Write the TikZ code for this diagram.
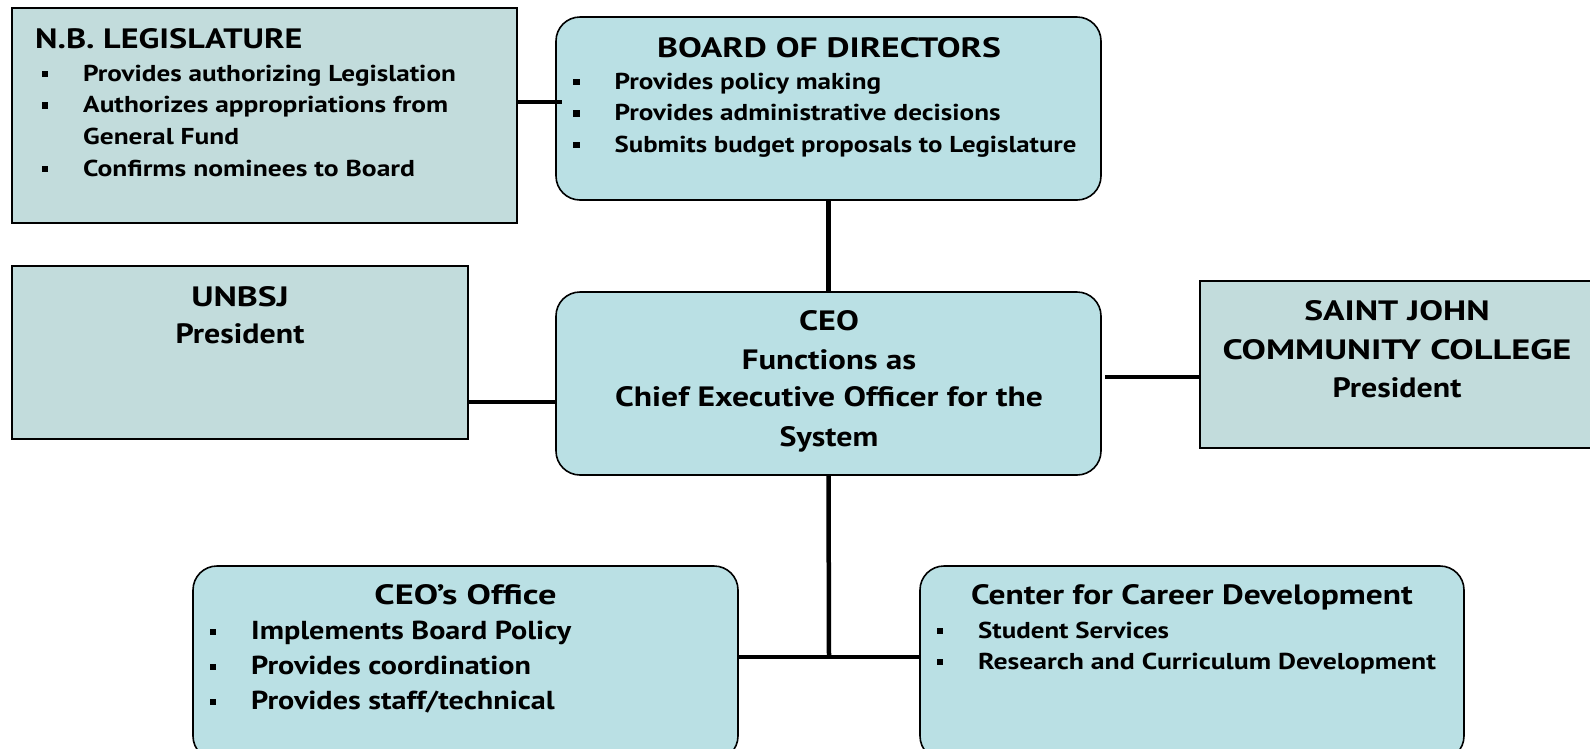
\documentclass[tikz,border=0pt]{standalone}
\usepackage{fontspec}
\setmainfont{PT Sans}
\definecolor{roundfill}{RGB}{186,224,228}
\definecolor{rectfill}{RGB}{194,220,220}
\newcommand\sqb{\llap{\raisebox{4pt}{\rule{6.5pt}{6.5pt}}\hspace{35pt}}}
\tikzset{
  rbox/.style={draw=black, line width=1.6pt, fill=roundfill, rounded corners=24pt},
  sbox/.style={draw=black, line width=1.8pt, fill=rectfill},
  hd/.style={inner sep=0pt, anchor=base, font=\fontsize{28}{32}\selectfont\bfseries\addfontfeature{FakeStretch=#1}},
  hd/.default=1.2,
  hdl/.style={inner sep=0pt, anchor=base west, font=\fontsize{28}{32}\selectfont\bfseries\addfontfeature{FakeStretch=#1}},
  hdl/.default=1.2,
  itm/.style={inner sep=0pt, anchor=base west, font=\fontsize{23}{30}\selectfont\bfseries\addfontfeature{FakeStretch=#1}},
  itm/.default=1.18,
  itmb/.style={inner sep=0pt, anchor=base west, font=\fontsize{26}{30}\selectfont\bfseries\addfontfeature{FakeStretch=#1}},
  itmb/.default=1.16,
  conn/.style={line width=4.5pt, black}
}
\begin{document}
\begin{tikzpicture}[x=1pt,y=-1pt]
\useasboundingbox (0,0) rectangle (1590,748);
% boxes
\path[sbox] (12,8) rectangle (517,223);
\node[inner sep=0pt, minimum width=505pt, minimum height=215pt] (leg) at (264.5,115.5) {};
\path[rbox] (556,17) rectangle (1101,200);
\node[inner sep=0pt, minimum width=545pt, minimum height=183pt] (bod) at (828.5,108.5) {};
\path[sbox] (12,266) rectangle (468,439);
\node[inner sep=0pt, minimum width=456pt, minimum height=173pt] (unb) at (240,352.5) {};
\path[rbox] (556,292) rectangle (1101,475);
\node[inner sep=0pt, minimum width=545pt, minimum height=183pt] (ceo) at (828.5,383.5) {};
\path[sbox] (1200,281) rectangle (1600,448);
\node[inner sep=0pt, minimum width=400pt, minimum height=167pt] (sjc) at (1400,364.5) {};
\path[rbox] (193,566) rectangle (738,760);
\node[inner sep=0pt, minimum width=545pt, minimum height=194pt] (off) at (465.5,663) {};
\path[rbox] (920,566) rectangle (1464,760);
\node[inner sep=0pt, minimum width=544pt, minimum height=194pt] (ccd) at (1192,663) {};

% connectors
\coordinate (j1) at (829,657);
\draw[conn] (leg.east |- 0,102) -- ([xshift=6pt]bod.west |- 0,102);
\draw[conn] (bod.south) -- (ceo.north);
\draw[conn] (unb.east |- 0,402) -- (ceo.west |- 0,402);
\draw[conn] ([xshift=4pt]ceo.east |- 0,377) -- (sjc.west |- 0,377);
\draw[conn] (ceo.south) -- (j1);
\draw[conn] (off.east |- j1) -- (ccd.west |- j1);

% N.B. Legislature
\node[hdl=1.22] (leg-t) at (35,48.5) {N.B. LEGISLATURE};
\node[itm=1.18] (leg-1) at (83,81) {\sqb Provides authorizing Legislation};
\node[itm=1.19] (leg-2) at (83,112.5) {\sqb Authorizes appropriations from};
\node[itm=1.19] (leg-3) at (83,144) {General Fund};
\node[itm=1.2] (leg-4) at (83,176) {\sqb Confirms nominees to Board};

% Board
\node[hd=1.27] (bod-t) at (829,57) {BOARD OF DIRECTORS};
\node[itm=1.18] (bod-1) at (614.5,89) {\sqb Provides policy making};
\node[itm=1.18] (bod-2) at (614.5,120.5) {\sqb Provides administrative decisions};
\node[itm=1.165] (bod-3) at (614.5,152) {\sqb Submits budget proposals to Legislature};

% UNBSJ
\node[hd=1.27] (unb-1) at (240,306) {UNBSJ};
\node[hd=1.14] (unb-2) at (240,343.6) {President};

% CEO
\node[hd=1.22] (ceo-1) at (829,330) {CEO};
\node[hd=1.17] (ceo-2) at (829,369) {Functions as};
\node[hd=1.2] (ceo-3) at (829,406.5) {Chief Executive Officer for the};
\node[hd=1.14] (ceo-4) at (829,446) {System};

% Saint John
\node[hd=1.27] (sjc-1) at (1397,320) {SAINT JOHN};
\node[hd=1.3] (sjc-2) at (1397,359) {COMMUNITY COLLEGE};
\node[hd=1.14] (sjc-3) at (1397,397) {President};

% CEO's Office
\node[hd=1.3] (off-t) at (465.5,604) {CEO’s Office};
\node[itmb=1.16] (off-1) at (251,639) {\sqb Implements Board Policy};
\node[itmb=1.16] (off-2) at (251,674) {\sqb Provides coordination};
\node[itmb=1.16] (off-3) at (251,709) {\sqb Provides staff/technical};

% Career Development
\node[hd=1.195] (ccd-t) at (1192,604) {Center for Career Development};
\node[itm=1.17] (ccd-1) at (978,638) {\sqb Student Services};
\node[itm=1.205] (ccd-2) at (978,669) {\sqb Research and Curriculum Development};
\end{tikzpicture}
\end{document}
